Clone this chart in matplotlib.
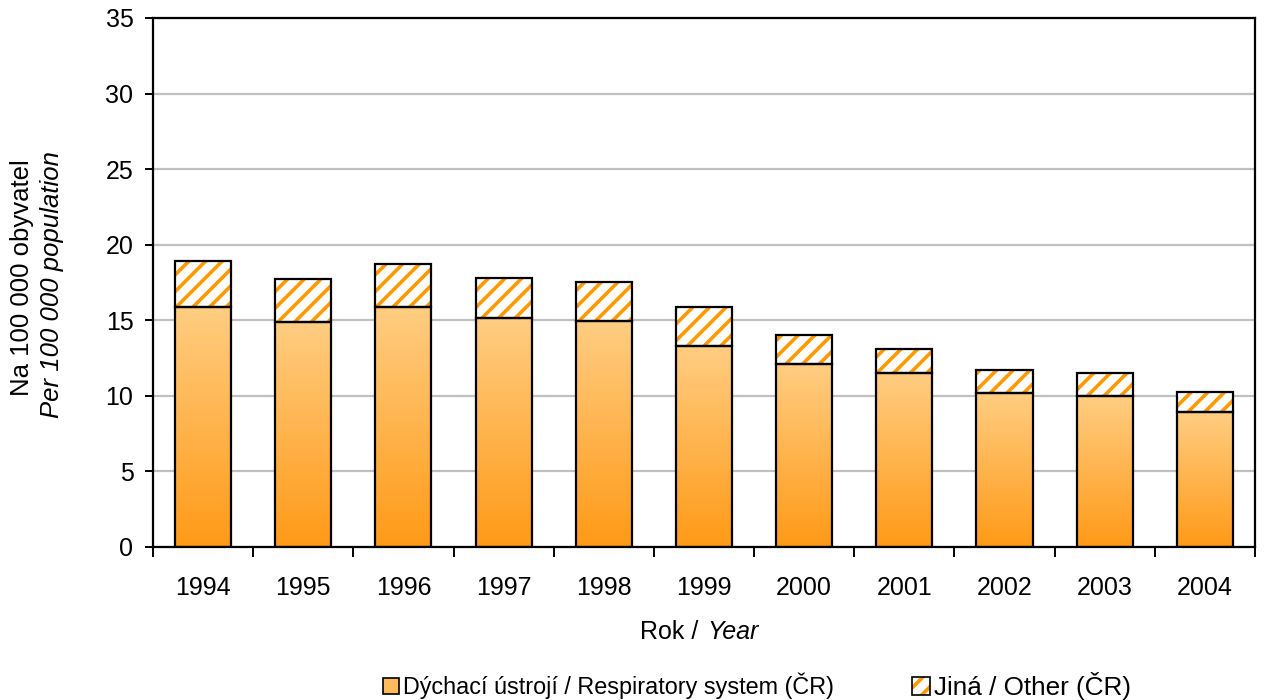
import numpy as np
import matplotlib.pyplot as plt
from matplotlib.colors import LinearSegmentedColormap
from matplotlib.patches import Patch

plt.rcParams['font.family'] = ['Liberation Sans', 'DejaVu Sans']
plt.rcParams['hatch.linewidth'] = 2.6

years = ['1994', '1995', '1996', '1997', '1998', '1999',
         '2000', '2001', '2002', '2003', '2004']
# top of stacked bar (total) and respiratory part
total = [18.94, 17.71, 18.74, 17.80, 17.53, 15.88, 14.03, 13.10, 11.73, 11.49, 10.28]
respiratory = [15.90, 14.89, 15.86, 15.15, 14.92, 13.33, 12.09, 11.53, 10.21, 9.99, 8.91]
other = [t - r for t, r in zip(total, respiratory)]
labels = ['Dýchací ústrojí / Respiratory system (ČR)', 'Jiná / Other (ČR)']

x = np.arange(len(years))
w = 0.56
fs = 18

fig = plt.figure(figsize=(12.65, 7.0), dpi=100)
ax = fig.add_axes([0.1209, 0.2186, 0.8712, 0.7557])

ax.set_xlim(-0.5, len(years) - 0.5)
ax.set_ylim(0, 35)
ax.set_yticks(np.arange(0, 36, 5))
ax.yaxis.grid(True, color='#c0c0c0', lw=1.6)
ax.set_axisbelow(True)

# gradient-filled respiratory bars
cmap = LinearSegmentedColormap.from_list('org', ['#ff9a17', '#ffcd82'])
grad = np.linspace(0, 1, 256).reshape(-1, 1)
bars = ax.bar(x, respiratory, width=w, color='none', edgecolor='black', lw=1.6, zorder=3)
for b in bars:
    x0, y0 = b.get_x(), b.get_y()
    im = ax.imshow(grad, cmap=cmap, origin='lower', aspect='auto',
                   extent=[x0, x0 + b.get_width(), y0, y0 + b.get_height()], zorder=2)
    im.set_clip_path(b)

# hatched "other" part
ax.bar(x, other, bottom=respiratory, width=w, color='white', edgecolor='#ff9900',
       hatch='//', lw=0, zorder=2)
ax.bar(x, other, bottom=respiratory, width=w, color='none', edgecolor='black',
       lw=1.6, zorder=3)

ax.set_xlim(-0.5, len(years) - 0.5)
ax.set_ylim(0, 35)

# ticks between categories, labels at centres
ax.set_xticks(np.arange(-0.5, len(years), 1.0))
ax.set_xticklabels([])
ax.set_xticks(x, minor=True)
ax.set_xticklabels(years, minor=True)
ax.tick_params(axis='x', which='major', direction='out', length=7, width=1.4)
ax.tick_params(axis='x', which='minor', length=0, pad=21, labelsize=fs)
ax.tick_params(axis='y', direction='out', length=6, width=1.4, labelsize=fs, pad=8)

for s in ax.spines.values():
    s.set_linewidth(1.6)
    s.set_color('black')

# axis titles with mixed upright / italic parts
fig.text(705 / 1265, 1 - 632 / 700, 'Rok / ', ha='right', va='center', fontsize=fs)
fig.text(707 / 1265, 1 - 632 / 700, 'Year', ha='left', va='center', fontsize=fs,
         style='italic')
fig.text(22 / 1265, 1 - 278 / 700, 'Na 100 000 obyvatel', rotation=90,
         ha='center', va='center', fontsize=18.5)
fig.text(52 / 1265, 1 - 284 / 700, 'Per 100 000 population', rotation=90,
         ha='center', va='center', fontsize=18.5, style='italic')

# legend entries placed separately (the two labels differ in size)
h1 = Patch(facecolor='#ffbb5c', edgecolor='black', lw=1.2)
h2 = (Patch(facecolor='white', edgecolor='#ff9900', hatch='//', lw=0),
      Patch(facecolor='none', edgecolor='black', lw=1.2))
common = dict(loc='center left', frameon=False, handlelength=0.7, handleheight=0.7,
              handletextpad=0.15, borderpad=0, borderaxespad=0)
fig.legend([h1], [labels[0]], bbox_to_anchor=(383 / 1265, 1 - 686 / 700),
           fontsize=16.8, **common)
fig.legend([h2], [labels[1]], bbox_to_anchor=(912 / 1265, 1 - 686 / 700),
           fontsize=18.8, **common)

fig.savefig('out.png', dpi=100)
